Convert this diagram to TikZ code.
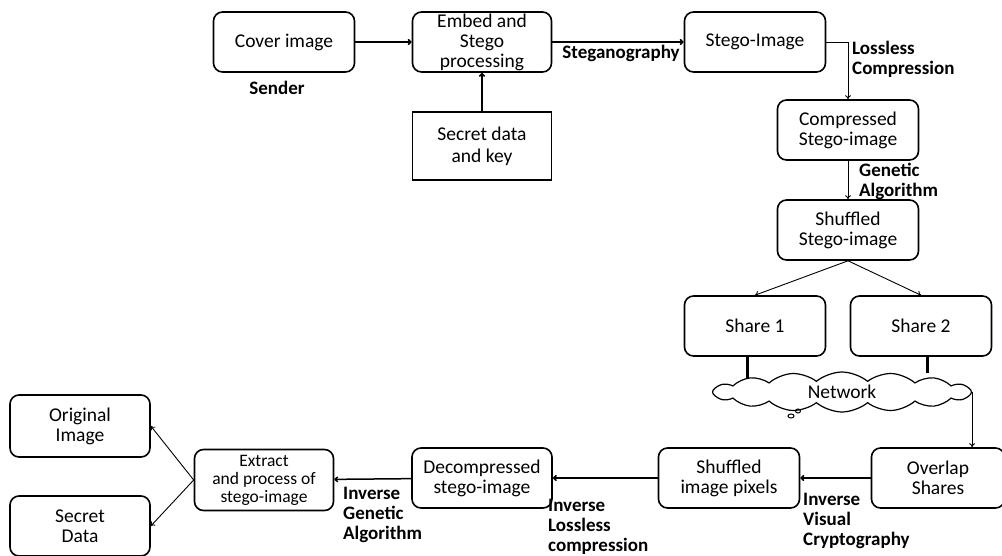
\documentclass[tikz,border=0pt]{standalone}
\usepackage{fontspec}
\setmainfont{Carlito}
\usetikzlibrary{shapes.symbols,shapes.geometric,arrows.meta}
\begin{document}
\begin{tikzpicture}[x=1pt,y=-1pt,
  rbox/.style={draw,rounded corners=9pt,line width=1.6pt,minimum width=141pt,minimum height=60pt,
    align=center,font=\fontsize{19.5}{20}\selectfont,inner sep=1pt},
  sbox/.style={draw,line width=1.6pt,minimum width=139pt,minimum height=68pt,
    align=center,font=\fontsize{19.5}{22}\selectfont,inner sep=1pt},
  lab/.style={font=\bfseries\fontsize{19}{20}\selectfont,align=left,inner sep=0pt},
  arr/.style={-{To[length=4pt,width=6pt]},line width=1.5pt},
  tarr/.style={-{To[length=4pt,width=6pt]},line width=0.9pt},
  post/.style={line width=3pt},
  bubble/.style={draw,ellipse,line width=1pt,inner sep=0pt}]
\clip (0,0) rectangle (1002,555);
% sender side
\node[rbox] (cover) at (284,42) {Cover image};
\node[rbox,minimum width=139pt] (embed) at (482,42) {Embed and\\Stego\\processing};
\node[rbox] (stego) at (755,42) {Stego-Image};
\node[sbox] (secret) at (482,146) {Secret data\\and key};
\node[rbox] (comp) at (848,130) {Compressed\\Stego-image};
\node[rbox] (shuf) at (848,230) {Shuffled\\Stego-image};
\node[rbox] (share1) at (755,326) {Share 1};
\node[rbox] (share2) at (921,326) {Share 2};
\node[cloud,draw,line width=1.2pt,cloud puffs=16,cloud puff arc=80,aspect=6,
  minimum width=259pt,minimum height=40pt,inner sep=0pt,font=\fontsize{19.5}{20}\selectfont] (net) at (842,392) {Network};
\node[bubble,minimum width=6pt,minimum height=4pt] (b1) at (791,416) {};
\node[bubble,minimum width=5pt,minimum height=4pt] (b2) at (798,411) {};
% receiver side
\node[rbox,minimum width=133pt] (overlap) at (938,478) {Overlap\\Shares};
\node[rbox] (pix) at (729,478) {Shuffled\\image pixels};
\node[rbox,minimum width=140pt] (decomp) at (482,478) {Decompressed\\stego-image};
\node[rbox,minimum width=139pt,minimum height=61pt,font=\fontsize{17.5}{18}\selectfont] (extract) at (264,480) {Extract\\and process of\\stego-image};
\node[rbox,minimum width=140pt,minimum height=62pt] (orig) at (80,426) {Original\\Image};
\node[rbox,minimum width=140pt] (sdata) at (80,526) {Secret\\Data};
% labels
\node[lab] (lsender) at (277,88) {Sender};
\node[lab] (lsteg) at (621,53) {Steganography};
\node[lab,anchor=north west] (lloss) at (852,41) {Lossless\\Compression};
\node[lab,anchor=north west] (lga) at (859,163) {Genetic\\Algorithm};
\node[lab,anchor=north west] (livc) at (803,493) {Inverse\\Visual\\Cryptography};
\node[lab,anchor=north west] (lilc) at (548,499) {Inverse\\Lossless\\compression};
\node[lab,anchor=north west] (liga) at (343,487) {Inverse\\Genetic\\Algorithm};
% connectors
\draw[arr] (cover) -- (embed);
\draw[arr] (secret) -- (embed);
\draw[arr] (embed) -- (stego);
\draw[tarr] (stego.east) -| (comp.north);
\draw[tarr] (comp) -- (shuf);
\draw[tarr] (shuf.south) -- (share1.north);
\draw[tarr] (shuf.south) -- (share2.north);
\draw[post] ([xshift=-8pt]share1.south) -- ++(0,21);
\draw[post] ([xshift=6pt]share2.south) -- ++(0,16);
\draw[tarr] (net.east) -- (net.east |- overlap.north);
\draw[arr] (overlap) -- (pix);
\draw[arr] (pix) -- (decomp);
\draw[arr] (decomp) -- (extract);
\draw[tarr] (extract.west) -- (orig.east);
\draw[tarr] (extract.west) -- (sdata.east);
\end{tikzpicture}
\end{document}
